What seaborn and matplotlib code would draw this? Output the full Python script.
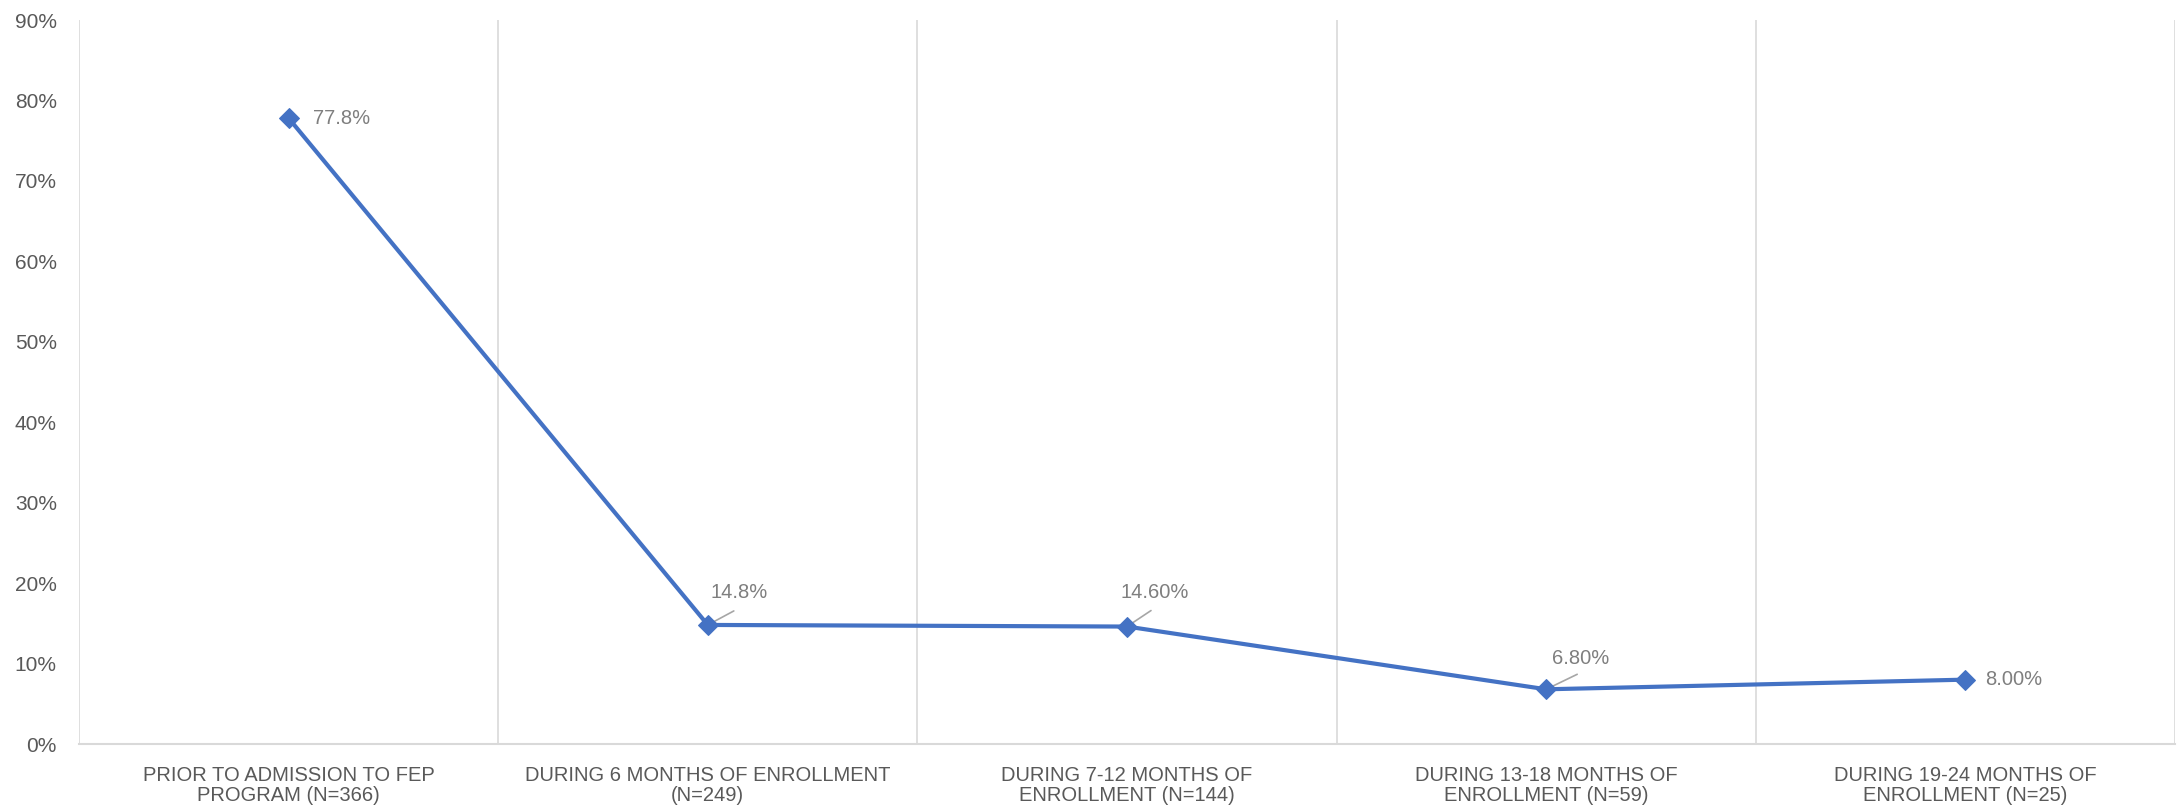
import matplotlib
matplotlib.use("Agg")
import matplotlib.pyplot as plt
from matplotlib.ticker import FixedLocator, PercentFormatter
import seaborn as sns
import pandas as pd

# Share of participants in each enrollment period
categories = [
    "PRIOR TO ADMISSION TO FEP\nPROGRAM (N=366)",
    "DURING 6 MONTHS OF ENROLLMENT\n(N=249)",
    "DURING 7-12 MONTHS OF\nENROLLMENT (N=144)",
    "DURING 13-18 MONTHS OF\nENROLLMENT (N=59)",
    "DURING 19-24 MONTHS OF\nENROLLMENT (N=25)",
]
values = [77.8, 14.8, 14.6, 6.8, 8.0]
value_labels = ["77.8%", "14.8%", "14.60%", "6.80%", "8.00%"]
y_ticks = [0, 10, 20, 30, 40, 50, 60, 70, 80, 90]

df = pd.DataFrame({"pos": range(len(categories)), "value": values})

sns.set_theme(style="white")
plt.rcParams["font.family"] = ["Liberation Sans", "DejaVu Sans"]

fig = plt.figure(figsize=(21.78, 8.10), dpi=100)
ax = fig.add_axes([79 / 2178, 1 - 744 / 810, (2175 - 79) / 2178, (744 - 20) / 810])

line_color = "#4472C4"
sns.lineplot(data=df, x="pos", y="value", ax=ax, color=line_color, linewidth=3.0,
             marker="D", markersize=10, markeredgecolor=line_color)

ax.set_xlim(-0.5, len(categories) - 0.5)
ax.set_ylim(0, 90)
ax.set_xlabel("")
ax.set_ylabel("")

# category labels at centres, gridlines on category boundaries
ax.xaxis.set_major_locator(FixedLocator(list(range(len(categories)))))
ax.set_xticklabels(categories, fontsize=14.5, color="#595959", linespacing=1.08)
ax.xaxis.set_minor_locator(FixedLocator([i - 0.5 for i in range(len(categories) + 1)]))
ax.grid(which="minor", axis="x", color="#d9d9d9", linewidth=1.2)
ax.grid(which="major", axis="both", visible=False)
ax.tick_params(axis="x", which="both", length=0, pad=16)

ax.set_yticks(y_ticks)
ax.yaxis.set_major_formatter(PercentFormatter(decimals=0))
ax.tick_params(axis="y", length=0, pad=16, labelsize=15, labelcolor="#595959")

for side in ["top", "right", "left"]:
    ax.spines[side].set_visible(False)
ax.spines["bottom"].set_color("#d9d9d9")
ax.spines["bottom"].set_linewidth(1.5)

# data labels: (text offset px, leader-line end offset px or None)
label_layout = [
    ((24, 0), None),
    ((3, 32), (26, 14)),
    ((-6, 34), (24, 16)),
    ((6, 31), (31, 15)),
    ((20, 0), None),
]
for i, (v, txt) in enumerate(zip(values, value_labels)):
    (tdx, tdy), leader = label_layout[i]
    if leader is not None:
        ax.annotate("", xy=(i, v), xytext=leader, textcoords="offset pixels",
                    arrowprops=dict(arrowstyle="-", color="#a6a6a6", lw=1.2,
                                    shrinkA=0, shrinkB=0), zorder=1)
    ax.annotate(txt, xy=(i, v), xytext=(tdx, tdy), textcoords="offset pixels",
                ha="left", va="center", fontsize=14.5, color="#7f7f7f")

fig.savefig("out.png", dpi=100)
